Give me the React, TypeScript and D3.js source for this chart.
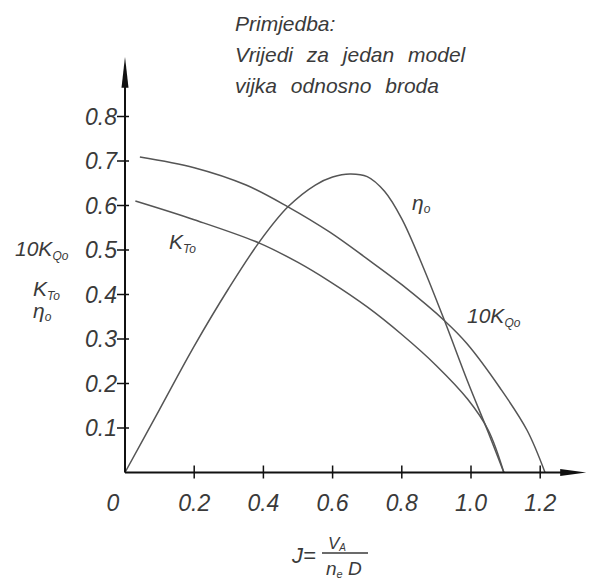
import { curveCatmullRom, line, scaleLinear } from "d3";

// J values and curve readings from the picture
const etaJ = [0, 0.1, 0.2, 0.3, 0.39, 0.471, 0.55, 0.6, 0.65, 0.7, 0.75, 0.8, 0.861, 0.925, 0.99, 1.05, 1.095];
const etaV = [0, 0.142, 0.284, 0.414, 0.52, 0.597, 0.646, 0.664, 0.671, 0.665, 0.632, 0.57, 0.463, 0.338, 0.205, 0.09, 0];

const ktJ = [0.03, 0.2, 0.39, 0.5, 0.59, 0.7, 0.8, 0.9, 0.99, 1.05, 1.095];
const ktV = [0.61, 0.568, 0.515, 0.472, 0.43, 0.372, 0.31, 0.24, 0.165, 0.095, 0];

const kqJ = [0.043, 0.2, 0.35, 0.471, 0.592, 0.7, 0.8, 0.925, 0.988, 1.084, 1.162, 1.214];
const kqV = [0.709, 0.685, 0.646, 0.597, 0.54, 0.48, 0.422, 0.34, 0.29, 0.19, 0.095, 0];

const xTicks = [0.2, 0.4, 0.6, 0.8, 1.0, 1.2];
const xTickLabels = ["0.2", "0.4", "0.6", "0.8", "1.0", "1.2"];
const yTicks = [0.1, 0.2, 0.3, 0.4, 0.5, 0.6, 0.7, 0.8];

const noteLines = ["Primjedba:", "Vrijedi za jedan model", "vijka odnosno broda"];

const font = "'Liberation Sans', Arial, sans-serif";
const ink = "#3a3a3a";

const x = scaleLinear().domain([0, 1.3]).range([125, 125 + 1.3 * 346]);
const y = scaleLinear().domain([0, 1]).range([472.5, 472.5 - 445]);

const zip = (a: number[], b: number[]) => a.map((d, i) => [d, b[i]] as [number, number]);

const curve = line<[number, number]>()
  .curve(curveCatmullRom.alpha(0.5))
  .x((d) => x(d[0]))
  .y((d) => y(d[1]));

export default function App() {
  const x0 = x(0);
  const y0 = y(0);
  const xEnd = x(1.333);
  const yTop = y(0.934);

  return (
    <svg
      width={589}
      height={582}
      style={{ position: "absolute", left: 0, top: 0, background: "#fff" }}
      fontFamily={font}
      fontStyle="italic"
    >
      {/* note */}
      {noteLines.map((t, i) => (
        <text key={t} x={235} y={31 + i * 31} fontSize={21} fill={ink} wordSpacing={8}>
          {t}
        </text>
      ))}

      {/* curves */}
      <g fill="none" stroke="#555" strokeWidth={1.5}>
        <path d={curve(zip(etaJ, etaV))!} />
        <path d={curve(zip(ktJ, ktV))!} />
        <path d={curve(zip(kqJ, kqV))!} />
      </g>

      {/* axes */}
      <g stroke="#111" strokeWidth={2}>
        <line x1={x0} y1={y0} x2={xEnd - 20} y2={y0} />
        <line x1={x0} y1={y0} x2={x0} y2={yTop + 25} />
        {xTicks.map((t) => (
          <line key={t} x1={x(t)} x2={x(t)} y1={y0 - 7} y2={y0 + 6} strokeWidth={1.5} />
        ))}
        {yTicks.map((t) => (
          <line key={t} x1={x0 - 8} x2={x0 + 4} y1={y(t)} y2={y(t)} strokeWidth={1.5} />
        ))}
      </g>
      <path d={`M${xEnd},${y0} L${xEnd - 26},${y0 - 3.5} L${xEnd - 26},${y0 + 3.5} Z`} fill="#111" />
      <path d={`M${x0},${yTop} L${x0 - 3.5},${yTop + 31} L${x0 + 3.5},${yTop + 31} Z`} fill="#111" />

      {/* tick labels */}
      <g fontSize={23} fill={ink}>
        {xTicks.map((t, i) => (
          <text key={t} x={x(t)} y={y0 + 38} textAnchor="middle">
            {xTickLabels[i]}
          </text>
        ))}
        <text x={x0 - 12} y={y0 + 38} textAnchor="middle">0</text>
        {yTicks.map((t) => (
          <text key={t} x={x0 - 8} y={y(t) + 8} textAnchor="end">
            {t.toFixed(1)}
          </text>
        ))}
      </g>

      {/* y axis title */}
      <g fontSize={21} fill={ink}>
        <text x={15} y={256}>
          10K<tspan fontSize={12} dy={4}>Qo</tspan>
        </text>
        <text x={33} y={296}>
          K<tspan fontSize={12} dy={4}>To</tspan>
        </text>
        <text x={33} y={318}>
          η<tspan fontSize={12} dy={3}>o</tspan>
        </text>
      </g>

      {/* curve labels */}
      <g fontSize={21} fill={ink}>
        <text x={169} y={249}>
          K<tspan fontSize={12} dy={4}>To</tspan>
        </text>
        <text x={412} y={210}>
          η<tspan fontSize={12} dy={3}>o</tspan>
        </text>
        <text x={467} y={323}>
          10K<tspan fontSize={12} dy={4}>Qo</tspan>
        </text>
      </g>

      {/* x axis title */}
      <g fill={ink}>
        <text x={292} y={563} fontSize={22}>J=</text>
        <line x1={322} x2={368} y1={553} y2={553} stroke={ink} strokeWidth={1.3} />
        <text x={328} y={549} fontSize={17}>
          V<tspan fontSize={10} dy={2}>A</tspan>
        </text>
        <text x={326} y={575} fontSize={19}>
          n<tspan fontSize={11} dy={3}>e</tspan>
          <tspan dy={-3}> D</tspan>
        </text>
      </g>
    </svg>
  );
}
